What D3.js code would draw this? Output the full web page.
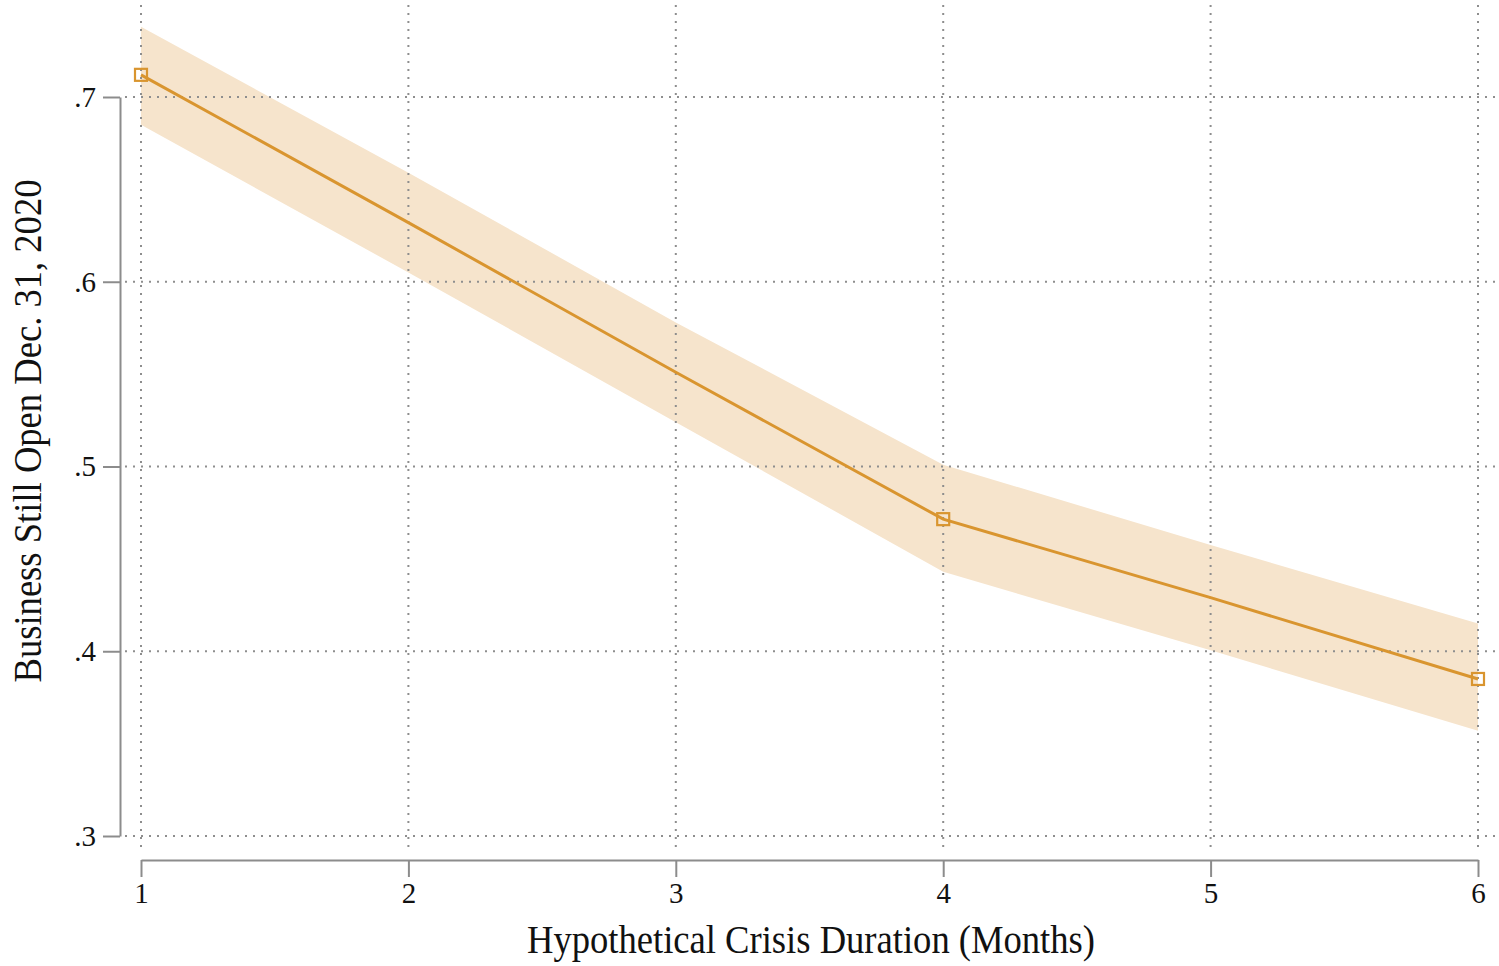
<!DOCTYPE html>
<html>
<head>
<meta charset="utf-8">
<script src="https://cdn.jsdelivr.net/npm/d3@7"></script>
<style>
  html, body { margin: 0; padding: 0; background: #fff; }
  svg { display: block; }
</style>
</head>
<body>
<svg id="chart" width="1499" height="966"></svg>
<script>
// ---- data ----
const months = [1, 2, 3, 4, 5, 6];
const estimate = [0.712, 0.632, 0.551, 0.4715, 0.429, 0.385];
const upperCI = [0.738, 0.659, 0.578, 0.501, 0.4575, 0.415];
const lowerCI = [0.685, 0.605, 0.524, 0.443, 0.4005, 0.357];
const markedMonths = [1, 4, 6];
const xTicks = [1, 2, 3, 4, 5, 6];
const yTicks = [0.3, 0.4, 0.5, 0.6, 0.7];
const yTickLabels = [".3", ".4", ".5", ".6", ".7"];
const xTitle = "Hypothetical Crisis Duration (Months)";
const yTitle = "Business Still Open Dec. 31, 2020";

const svg = d3.select("#chart");
const font = "'Liberation Serif', 'Times New Roman', serif";

const x = d3.scaleLinear().domain([1, 6]).range([141, 1478]);
const y = d3.scaleLinear().domain([0.3, 0.7]).range([836, 97]);

const plot = { left: 125, right: 1499, top: 5, bottom: 852 };
const gridColor = "#8e8e8e";
const lineColor = "#d9952f";
const bandColor = "#f6e4cc";
const axisColor = "#8c8c8c";

const rows = months.map((m, i) => ({ m, est: estimate[i], lo: lowerCI[i], hi: upperCI[i] }));

// CI band
svg.append("path")
  .datum(rows)
  .attr("fill", bandColor)
  .attr("d", d3.area().x(d => x(d.m)).y0(d => y(d.lo)).y1(d => y(d.hi)));

// grid lines
svg.append("g").selectAll("line").data(yTicks).join("line")
  .attr("x1", plot.left).attr("x2", plot.right)
  .attr("y1", d => y(d)).attr("y2", d => y(d))
  .attr("stroke", gridColor).attr("stroke-width", 2)
  .attr("stroke-dasharray", "2,6");
svg.append("g").selectAll("line").data(xTicks).join("line")
  .attr("x1", d => x(d)).attr("x2", d => x(d))
  .attr("y1", plot.top).attr("y2", plot.bottom)
  .attr("stroke", gridColor).attr("stroke-width", 2)
  .attr("stroke-dasharray", "2,6");

// estimate line
svg.append("path")
  .datum(rows)
  .attr("fill", "none")
  .attr("stroke", lineColor)
  .attr("stroke-width", 3)
  .attr("d", d3.line().x(d => x(d.m)).y(d => y(d.est)));

// markers
svg.append("g").selectAll("rect")
  .data(rows.filter(d => markedMonths.includes(d.m)))
  .join("rect")
  .attr("x", d => x(d.m) - 6).attr("y", d => y(d.est) - 6)
  .attr("width", 12).attr("height", 12)
  .attr("fill", "none")
  .attr("stroke", lineColor).attr("stroke-width", 2.2);

// y axis
const yAxis = d3.axisLeft(y).tickValues(yTicks)
  .tickFormat((d, i) => yTickLabels[i]).tickSize(17).tickSizeOuter(0).tickPadding(7);
const gy = svg.append("g").attr("transform", "translate(120,0)").call(yAxis);
gy.select(".domain").attr("stroke", axisColor).attr("stroke-width", 2);
gy.selectAll(".tick line").attr("stroke", axisColor).attr("stroke-width", 2);
gy.selectAll(".tick text")
  .attr("font-family", font).attr("font-size", 29).attr("fill", "#111");

// x axis
const xAxis = d3.axisBottom(x).tickValues(xTicks)
  .tickFormat(d3.format("d")).tickSize(17).tickSizeOuter(0).tickPadding(5);
const gx = svg.append("g").attr("transform", "translate(0,860)").call(xAxis);
gx.select(".domain").attr("stroke", axisColor).attr("stroke-width", 2);
gx.selectAll(".tick line").attr("stroke", axisColor).attr("stroke-width", 2);
gx.selectAll(".tick text")
  .attr("font-family", font).attr("font-size", 29).attr("fill", "#111");

// titles
svg.append("text")
  .attr("x", 811).attr("y", 953)
  .attr("text-anchor", "middle")
  .attr("font-family", font).attr("font-size", 40).attr("fill", "#111")
  .attr("textLength", 568).attr("lengthAdjust", "spacingAndGlyphs")
  .text(xTitle);

svg.append("text")
  .attr("transform", "translate(41,431) rotate(-90)")
  .attr("text-anchor", "middle")
  .attr("font-family", font).attr("font-size", 40).attr("fill", "#111")
  .attr("textLength", 503).attr("lengthAdjust", "spacingAndGlyphs")
  .text(yTitle);
</script>
</body>
</html>
